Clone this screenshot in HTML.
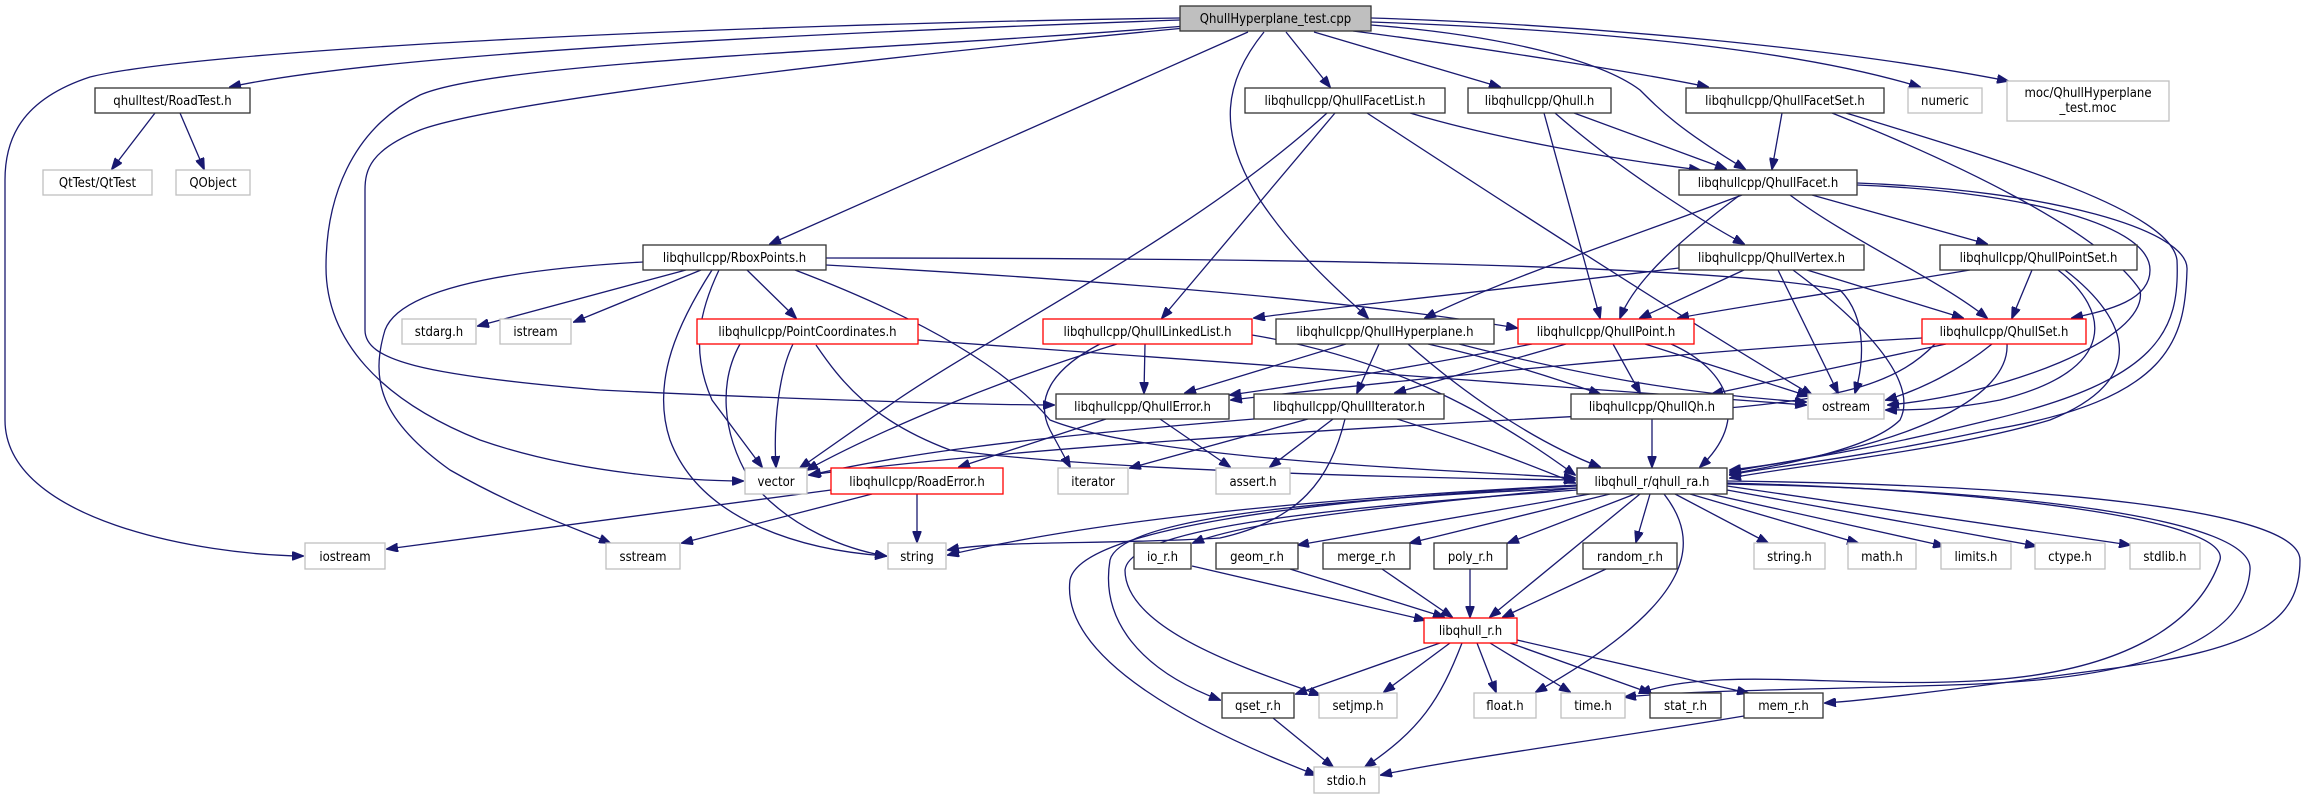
<!DOCTYPE html>
<html><head><meta charset="utf-8"><style>
html,body{margin:0;padding:0;background:#fff;}
svg{display:block}
text{font-family:"DejaVu Sans Condensed","DejaVu Sans","Liberation Sans",sans-serif;font-size:13px;fill:#000}
.e{fill:none;stroke:#191970;stroke-width:1.3}
.n rect{fill:#fff;stroke:#333;stroke-width:1.3}
.g rect{fill:#fff;stroke:#bfbfbf;stroke-width:1.3}
.r rect{fill:#fff;stroke:#ff0000;stroke-width:1.3}
</style></head><body>
<svg width="2312" height="799" viewBox="0 0 2312 799" xmlns="http://www.w3.org/2000/svg">
<defs><marker id="a" markerWidth="12" markerHeight="9" refX="11" refY="4.5" orient="auto" markerUnits="userSpaceOnUse"><path d="M0,0 L12,4.5 L0,9 z" fill="#191970" stroke="#191970"/></marker></defs>
<g class="e" marker-end="url(#a)">
<path d="M1180,20 C900,30 400,50 230,87"/>
<path d="M1180,18 C700,25 200,50 90,77 C20,100 5,140 5,180 L5,420 C5,520 200,555 303,556"/>
<path d="M1185,26 C900,50 500,60 420,95 C350,130 326,200 326,267 C326,340 380,400 480,440 C580,475 700,481 743,481"/>
<path d="M1185,28 C900,55 500,100 420,130 C370,150 365,170 365,190 L365,330 C365,360 420,375 600,390 C800,400 1000,405 1054,405"/>
<path d="M1248,32 L770,244"/>
<path d="M1264,32 C1225,80 1215,130 1260,200 C1300,260 1350,300 1368,318"/>
<path d="M1286,32 L1330,87"/>
<path d="M1314,32 L1500,87"/>
<path d="M1353,31 C1500,50 1650,75 1708,87"/>
<path d="M1371,22 C1600,30 1800,50 1920,87"/>
<path d="M1371,18 C1600,25 1850,50 2008,81"/>
<path d="M1371,25 C1500,35 1600,60 1640,90 C1660,110 1680,130 1745,169"/>
<path d="M155,113 L112,169"/>
<path d="M180,113 L204,169"/>
<path d="M1410,113 C1500,140 1620,160 1700,170"/>
<path d="M1335,113 L1162,318"/>
<path d="M1327,113 C1200,230 1000,330 897,400 L800,468"/>
<path d="M1367,113 C1500,200 1700,330 1812,395"/>
<path d="M1574,113 L1726,169"/>
<path d="M1555,113 C1620,170 1700,220 1744,244"/>
<path d="M1544,113 L1600,318"/>
<path d="M1782,113 L1772,169"/>
<path d="M1832,113 C1950,160 2100,230 2140,290 C2150,340 2000,395 1888,405"/>
<path d="M1846,113 C2000,160 2170,210 2177,260 C2180,330 2160,380 1990,420 C1850,455 1760,465 1730,472"/>
<path d="M1742,195 C1650,230 1500,280 1425,318"/>
<path d="M1740,195 C1680,240 1635,280 1620,318"/>
<path d="M1812,195 L1987,244"/>
<path d="M1790,195 C1850,240 1940,280 1987,318"/>
<path d="M1857,185 C2000,190 2150,220 2150,270 C2150,300 2110,310 2072,318"/>
<path d="M1857,183 C2050,190 2190,230 2187,270 C2185,340 2170,400 1990,430 C1850,460 1760,468 1730,475"/>
<path d="M1679,268 C1500,290 1350,305 1254,318"/>
<path d="M1744,270 L1640,318"/>
<path d="M1807,270 L1963,318"/>
<path d="M1778,270 L1838,393"/>
<path d="M1793,270 C1860,320 1920,380 1900,420 C1870,450 1780,465 1730,474"/>
<path d="M1970,270 C1850,290 1750,305 1678,318"/>
<path d="M2032,270 L2012,318"/>
<path d="M2058,270 C2110,310 2120,370 2000,400 C1950,410 1910,410 1886,410"/>
<path d="M2065,270 C2130,320 2150,380 2050,420 C1950,450 1800,465 1730,478"/>
<path d="M686,270 L478,326"/>
<path d="M701,270 L574,322"/>
<path d="M747,270 L796,318"/>
<path d="M719,270 C700,310 690,350 712,400 L762,467"/>
<path d="M712,270 C680,320 650,380 670,440 C700,520 800,550 886,556"/>
<path d="M793,344 C780,370 773,420 776,467"/>
<path d="M740,344 C720,380 720,430 750,480 C790,530 850,550 886,556"/>
<path d="M643,262 C500,270 400,290 385,330 C370,380 380,420 450,470 C520,510 580,530 610,543"/>
<path d="M826,258 C1200,258 1700,262 1840,290 C1870,320 1862,370 1855,393"/>
<path d="M826,265 C1100,280 1350,300 1517,328"/>
<path d="M795,270 C900,310 1000,360 1050,420 C1150,460 1450,470 1575,478"/>
<path d="M918,340 C1200,360 1600,390 1806,405"/>
<path d="M816,345 C840,380 870,420 950,450 C1100,470 1400,478 1575,480"/>
<path d="M1145,344 L1144,393"/>
<path d="M1117,344 C1000,380 880,430 807,470"/>
<path d="M1100,344 C1050,370 1035,400 1050,430 L1070,467"/>
<path d="M1252,335 C1400,360 1500,420 1575,475"/>
<path d="M1346,344 L1185,393"/>
<path d="M1379,344 L1357,393"/>
<path d="M1428,344 C1500,360 1560,380 1600,394"/>
<path d="M1408,344 C1460,390 1530,440 1600,467"/>
<path d="M1459,344 C1600,380 1700,395 1806,402"/>
<path d="M1532,344 C1400,370 1300,385 1230,395"/>
<path d="M1566,344 L1395,393"/>
<path d="M1613,344 L1640,393"/>
<path d="M1645,344 L1808,396"/>
<path d="M1671,344 C1730,370 1750,420 1700,467"/>
<path d="M1922,338 C1700,350 1400,380 1231,400"/>
<path d="M1946,344 L1712,394"/>
<path d="M1992,344 C1960,370 1920,390 1886,400"/>
<path d="M2007,344 C2010,400 1900,450 1730,470"/>
<path d="M1935,344 C1900,380 1850,400 1700,410 C1300,430 1000,450 809,475"/>
<path d="M1106,419 L959,467"/>
<path d="M1160,419 L1230,467"/>
<path d="M1254,419 C1000,440 900,455 810,475"/>
<path d="M1308,419 L1130,468"/>
<path d="M1333,419 L1270,467"/>
<path d="M1397,419 C1480,445 1530,465 1575,483"/>
<path d="M1345,419 C1330,480 1300,520 1220,538 C1100,545 1000,540 948,550"/>
<path d="M1652,419 L1652,467"/>
<path d="M831,490 L387,549"/>
<path d="M872,494 L682,543"/>
<path d="M917,494 L917,542"/>
<path d="M1577,485 C1300,500 1100,520 948,555"/>
<path d="M1577,488 C1400,505 1250,520 1193,543"/>
<path d="M1590,494 L1298,545"/>
<path d="M1610,494 L1410,543"/>
<path d="M1635,494 L1508,543"/>
<path d="M1650,494 L1636,542"/>
<path d="M1640,494 L1490,617"/>
<path d="M1675,494 L1768,543"/>
<path d="M1690,494 L1858,543"/>
<path d="M1710,494 L1944,546"/>
<path d="M1727,490 L2036,546"/>
<path d="M1727,486 L2130,545"/>
<path d="M1577,488 C1300,500 1120,520 1110,560 C1100,620 1140,670 1220,700"/>
<path d="M1577,490 C1300,510 1130,530 1125,570 C1125,630 1250,670 1320,695"/>
<path d="M1577,486 C1300,500 1080,530 1070,580 C1060,660 1200,730 1316,775"/>
<path d="M1664,494 C1700,540 1700,600 1536,692"/>
<path d="M1727,483 C2000,490 2230,520 2220,560 C2200,620 2130,670 1990,680 C1850,690 1720,665 1640,693"/>
<path d="M1727,484 C2030,490 2255,520 2250,570 C2245,640 2150,680 1950,685 C1800,690 1700,690 1625,697"/>
<path d="M1727,481 C2050,485 2300,510 2300,560 C2300,620 2260,650 2100,670 C1950,690 1870,700 1825,703"/>
<path d="M1192,566 L1425,620"/>
<path d="M1290,569 L1444,617"/>
<path d="M1382,569 L1452,617"/>
<path d="M1470,569 L1470,617"/>
<path d="M1606,569 L1503,617"/>
<path d="M1440,643 L1296,694"/>
<path d="M1450,643 L1384,692"/>
<path d="M1477,643 L1496,692"/>
<path d="M1490,643 L1570,692"/>
<path d="M1510,643 L1650,693"/>
<path d="M1517,640 L1748,693"/>
<path d="M1462,643 C1440,700 1420,730 1365,767"/>
<path d="M1273,718 L1333,767"/>
<path d="M1744,716 C1600,740 1450,760 1381,775"/>
</g>
<g>
<g class="n"><rect x="1180" y="6" width="191" height="25" style="fill:#bfbfbf"/><text x="1275.5" y="23" text-anchor="middle">QhullHyperplane_test.cpp</text></g>
<g class="n"><rect x="95" y="88" width="155" height="25"/><text x="172.5" y="105" text-anchor="middle">qhulltest/RoadTest.h</text></g>
<g class="g"><rect x="43" y="170" width="109" height="25"/><text x="97.5" y="187" text-anchor="middle">QtTest/QtTest</text></g>
<g class="g"><rect x="176" y="170" width="74" height="25"/><text x="213" y="187" text-anchor="middle">QObject</text></g>
<g class="n"><rect x="1245" y="88" width="200" height="25"/><text x="1345" y="105" text-anchor="middle">libqhullcpp/QhullFacetList.h</text></g>
<g class="n"><rect x="1468" y="88" width="143" height="25"/><text x="1539.5" y="105" text-anchor="middle">libqhullcpp/Qhull.h</text></g>
<g class="n"><rect x="1686" y="88" width="198" height="25"/><text x="1785" y="105" text-anchor="middle">libqhullcpp/QhullFacetSet.h</text></g>
<g class="g"><rect x="1908" y="88" width="74" height="25"/><text x="1945" y="105" text-anchor="middle">numeric</text></g>
<g class="g"><rect x="2007" y="81" width="162" height="40"/><text x="2088" y="97" text-anchor="middle">moc/QhullHyperplane</text><text x="2088" y="112" text-anchor="middle">_test.moc</text></g>
<g class="n"><rect x="1679" y="170" width="178" height="25"/><text x="1768" y="187" text-anchor="middle">libqhullcpp/QhullFacet.h</text></g>
<g class="n"><rect x="643" y="245" width="183" height="25"/><text x="734.5" y="262" text-anchor="middle">libqhullcpp/RboxPoints.h</text></g>
<g class="n"><rect x="1679" y="245" width="185" height="25"/><text x="1771.5" y="262" text-anchor="middle">libqhullcpp/QhullVertex.h</text></g>
<g class="n"><rect x="1940" y="245" width="197" height="25"/><text x="2038.5" y="262" text-anchor="middle">libqhullcpp/QhullPointSet.h</text></g>
<g class="g"><rect x="402" y="319" width="74" height="25"/><text x="439" y="336" text-anchor="middle">stdarg.h</text></g>
<g class="g"><rect x="500" y="319" width="71" height="25"/><text x="535.5" y="336" text-anchor="middle">istream</text></g>
<g class="r"><rect x="697" y="319" width="221" height="25"/><text x="807.5" y="336" text-anchor="middle">libqhullcpp/PointCoordinates.h</text></g>
<g class="r"><rect x="1043" y="319" width="209" height="25"/><text x="1147.5" y="336" text-anchor="middle">libqhullcpp/QhullLinkedList.h</text></g>
<g class="n"><rect x="1276" y="319" width="218" height="25"/><text x="1385" y="336" text-anchor="middle">libqhullcpp/QhullHyperplane.h</text></g>
<g class="r"><rect x="1518" y="319" width="176" height="25"/><text x="1606" y="336" text-anchor="middle">libqhullcpp/QhullPoint.h</text></g>
<g class="r"><rect x="1922" y="319" width="164" height="25"/><text x="2004" y="336" text-anchor="middle">libqhullcpp/QhullSet.h</text></g>
<g class="n"><rect x="1056" y="394" width="173" height="25"/><text x="1142.5" y="411" text-anchor="middle">libqhullcpp/QhullError.h</text></g>
<g class="n"><rect x="1254" y="394" width="190" height="25"/><text x="1349" y="411" text-anchor="middle">libqhullcpp/QhullIterator.h</text></g>
<g class="n"><rect x="1571" y="394" width="162" height="25"/><text x="1652" y="411" text-anchor="middle">libqhullcpp/QhullQh.h</text></g>
<g class="g"><rect x="1808" y="394" width="76" height="25"/><text x="1846" y="411" text-anchor="middle">ostream</text></g>
<g class="g"><rect x="745" y="468" width="62" height="26"/><text x="776" y="486" text-anchor="middle">vector</text></g>
<g class="r"><rect x="831" y="468" width="172" height="26"/><text x="917" y="486" text-anchor="middle">libqhullcpp/RoadError.h</text></g>
<g class="g"><rect x="1058" y="468" width="70" height="26"/><text x="1093" y="486" text-anchor="middle">iterator</text></g>
<g class="g"><rect x="1216" y="468" width="74" height="26"/><text x="1253" y="486" text-anchor="middle">assert.h</text></g>
<g class="n"><rect x="1577" y="468" width="150" height="26"/><text x="1652" y="486" text-anchor="middle">libqhull_r/qhull_ra.h</text></g>
<g class="g"><rect x="305" y="543" width="80" height="26"/><text x="345" y="561" text-anchor="middle">iostream</text></g>
<g class="g"><rect x="606" y="543" width="74" height="26"/><text x="643" y="561" text-anchor="middle">sstream</text></g>
<g class="g"><rect x="888" y="543" width="58" height="26"/><text x="917" y="561" text-anchor="middle">string</text></g>
<g class="n"><rect x="1134" y="543" width="57" height="26"/><text x="1162.5" y="561" text-anchor="middle">io_r.h</text></g>
<g class="n"><rect x="1216" y="543" width="82" height="26"/><text x="1257" y="561" text-anchor="middle">geom_r.h</text></g>
<g class="n"><rect x="1323" y="543" width="87" height="26"/><text x="1366.5" y="561" text-anchor="middle">merge_r.h</text></g>
<g class="n"><rect x="1434" y="543" width="73" height="26"/><text x="1470.5" y="561" text-anchor="middle">poly_r.h</text></g>
<g class="n"><rect x="1583" y="543" width="94" height="26"/><text x="1630" y="561" text-anchor="middle">random_r.h</text></g>
<g class="g"><rect x="1754" y="543" width="71" height="26"/><text x="1789.5" y="561" text-anchor="middle">string.h</text></g>
<g class="g"><rect x="1848" y="543" width="68" height="26"/><text x="1882" y="561" text-anchor="middle">math.h</text></g>
<g class="g"><rect x="1941" y="543" width="70" height="26"/><text x="1976" y="561" text-anchor="middle">limits.h</text></g>
<g class="g"><rect x="2035" y="543" width="70" height="26"/><text x="2070" y="561" text-anchor="middle">ctype.h</text></g>
<g class="g"><rect x="2130" y="543" width="70" height="26"/><text x="2165" y="561" text-anchor="middle">stdlib.h</text></g>
<g class="r"><rect x="1424" y="618" width="93" height="25"/><text x="1470.5" y="635" text-anchor="middle">libqhull_r.h</text></g>
<g class="n"><rect x="1222" y="693" width="72" height="25"/><text x="1258" y="710" text-anchor="middle">qset_r.h</text></g>
<g class="g"><rect x="1319" y="693" width="78" height="25"/><text x="1358" y="710" text-anchor="middle">setjmp.h</text></g>
<g class="g"><rect x="1474" y="693" width="62" height="25"/><text x="1505" y="710" text-anchor="middle">float.h</text></g>
<g class="g"><rect x="1561" y="693" width="64" height="25"/><text x="1593" y="710" text-anchor="middle">time.h</text></g>
<g class="n"><rect x="1650" y="693" width="71" height="25"/><text x="1685.5" y="710" text-anchor="middle">stat_r.h</text></g>
<g class="n"><rect x="1744" y="693" width="79" height="25"/><text x="1783.5" y="710" text-anchor="middle">mem_r.h</text></g>
<g class="g"><rect x="1314" y="767" width="65" height="26"/><text x="1346.5" y="785" text-anchor="middle">stdio.h</text></g>
</g>
</svg>
</body></html>
